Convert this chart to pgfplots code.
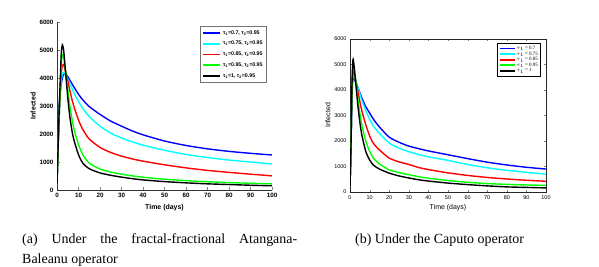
\documentclass[border=0pt]{standalone}
\usepackage{fontspec}
\setmainfont{Liberation Serif}
\newfontfamily\hv{Liberation Sans}
\usepackage{pgfplots}
\pgfplotsset{compat=1.18}
\definecolor{cblue}{rgb}{0,0,1}
\definecolor{ccyan}{rgb}{0,1,1}
\definecolor{cred}{rgb}{1,0,0}
\definecolor{cgreen}{rgb}{0,1,0}
\pgfplotsset{
  ln/.style={line width=1.4bp, smooth, tension=0.4},
  common/.style={
    scale only axis, xmin=0, xmax=100, ymin=0, ymax=6000,
    xtick={0,10,...,100}, ytick={0,1000,...,6000},
    tick align=inside,
    /pgf/number format/1000 sep={},
    /pgf/number format/assume math mode=true,
    legend cell align=left,
  }
}
\begin{document}
\begin{tikzpicture}[x=1bp,y=1bp]
\path (0,0) rectangle (599,265);
% ---------- left ----------
\begin{axis}[common,
  at={(57bp,75bp)}, anchor=south west, width=215bp, height=168bp,
  axis x line*=bottom, axis y line*=left, axis line style={-, draw=black!80},
  major tick length=2.5bp,
  tick label style={font=\hv\bfseries\fontsize{6.3}{7}\selectfont},
  xlabel={\hv\bfseries\fontsize{7}{8}\selectfont Time (days)},
  ylabel={\hv\bfseries\fontsize{7}{8}\selectfont Infected},
  xlabel style={yshift=0bp},
  ylabel style={yshift=-3bp},
  legend image code/.code={\draw[#1, sharp plot, line width=1.8bp] (0bp,0bp) -- (17bp,0bp);},
  legend style={at={(1,1)}, anchor=north east, xshift=-5bp, yshift=-4bp,
    font=\hv\bfseries\fontsize{5.3}{6}\selectfont, draw=black!55, line width=0.8bp,
    row sep=1.6bp, inner sep=2bp},
]
\addplot[cblue, ln] coordinates {(0,200)(0.5,1800)(1,3000)(1.5,3500)(2,3800)(2.5,4000)(3,4120)(3.5,4150)(4,4140)(5,4050)(6,3920)(7,3790)(8,3660)(10,3420)(12,3220)(15,2980)(20,2700)(25,2460)(30,2280)(35,2110)(40,1970)(50,1750)(60,1590)(70,1470)(80,1380)(90,1310)(100,1250)};
\addplot[ccyan, ln] coordinates {(0,200)(0.5,1500)(1,2600)(1.5,3400)(2,3900)(2.5,4150)(3,4200)(3.5,4180)(4,4120)(5,3980)(6,3800)(7,3620)(8,3450)(10,3160)(12,2920)(15,2620)(20,2280)(25,2030)(30,1860)(35,1720)(40,1600)(50,1420)(60,1270)(70,1160)(80,1070)(90,1000)(100,930)};
\addplot[cred, ln] coordinates {(0,200)(0.5,1500)(1,2600)(1.5,3500)(2,4200)(2.5,4450)(3,4480)(3.5,4380)(4,4230)(5,3900)(6,3550)(7,3220)(8,2950)(10,2500)(12,2160)(15,1820)(20,1520)(25,1340)(30,1210)(35,1110)(40,1030)(50,900)(60,790)(70,700)(80,630)(90,565)(100,505)};
\addplot[cgreen, ln] coordinates {(0,200)(0.5,1500)(1,2600)(1.5,3600)(2,4500)(2.5,4850)(3,4800)(3.5,4550)(4,4250)(5,3600)(6,3000)(7,2520)(8,2150)(10,1620)(12,1260)(15,960)(20,750)(25,640)(30,565)(35,505)(40,455)(50,385)(60,335)(70,295)(80,265)(90,240)(100,220)};
\addplot[black, ln] coordinates {(0,200)(0.5,1500)(1,2800)(1.5,3900)(2,4900)(2.5,5180)(3,5050)(3.5,4650)(4,4200)(5,3300)(6,2600)(7,2100)(8,1750)(10,1260)(12,960)(15,760)(20,610)(25,525)(30,460)(35,405)(40,360)(50,300)(60,255)(70,220)(80,195)(90,170)(100,150)};
\legend{τ\textsubscript{1}=0.7{,} τ\textsubscript{2}=0.95,
        τ\textsubscript{1}=0.75{,} τ\textsubscript{2}=0.95,
        τ\textsubscript{1}=0.85{,} τ\textsubscript{2}=0.95,
        τ\textsubscript{1}=0.95{,} τ\textsubscript{2}=0.95,
        τ\textsubscript{1}=1{,} τ\textsubscript{2}=0.95}
\end{axis}
% ---------- right ----------
\begin{axis}[common,
  at={(350bp,73bp)}, anchor=south west, width=196bp, height=153bp,
  major tick length=2.2bp,
  axis line style={draw=black!85},
  tick label style={font=\hv\fontsize{5.5}{6}\selectfont},
  xlabel={\hv\fontsize{7}{8}\selectfont Time (days)},
  ylabel={\hv\fontsize{7}{8}\selectfont Infected},
  xlabel style={yshift=2bp},
  ylabel style={yshift=-3bp},
  legend image code/.code={\draw[#1, sharp plot, line width=1.7bp] (0bp,0bp) -- (15bp,0bp);},
  legend style={at={(1,1)}, anchor=north east, xshift=-5bp, yshift=-4bp,
    font=\fontsize{5}{5.5}\selectfont, draw=black, line width=0.8bp,
    row sep=-1.6bp, inner sep=1.5bp,
    nodes={inner sep=1.2bp}},
]
\addplot[cblue, ln] coordinates {(0,200)(0.5,1800)(1,3800)(1.5,4450)(2,4450)(3,4300)(4,4100)(5,3900)(6,3700)(8,3350)(10,3100)(12,2850)(15,2550)(20,2150)(25,1950)(30,1800)(35,1700)(40,1610)(50,1460)(60,1310)(70,1170)(80,1060)(90,970)(100,900)};
\addplot[ccyan, ln] coordinates {(0,200)(0.5,1800)(1,3900)(1.5,4550)(2,4550)(3,4350)(4,4100)(5,3850)(6,3600)(8,3200)(10,2850)(12,2580)(15,2300)(20,1920)(25,1720)(30,1580)(35,1470)(40,1380)(50,1240)(60,1080)(70,950)(80,850)(90,770)(100,700)};
\addplot[cred, ln] coordinates {(0,200)(0.5,1800)(1,4000)(1.5,4780)(2,4700)(3,4350)(4,3950)(5,3550)(6,3200)(8,2650)(10,2200)(12,1900)(15,1650)(20,1330)(25,1180)(30,1080)(35,960)(40,880)(50,750)(60,650)(70,570)(80,510)(90,460)(100,420)};
\addplot[cgreen, ln] coordinates {(0,200)(0.5,1800)(1,4100)(1.5,4980)(2,4900)(3,4300)(4,3650)(5,3100)(6,2650)(8,2000)(10,1600)(12,1320)(15,1100)(20,870)(25,760)(30,680)(35,600)(40,540)(50,450)(60,380)(70,330)(80,300)(90,275)(100,260)};
\addplot[black, ln] coordinates {(0,200)(0.5,1800)(1,4200)(1.5,5180)(2,5000)(3,4200)(4,3400)(5,2750)(6,2250)(8,1600)(10,1260)(12,1050)(15,900)(20,740)(25,630)(30,550)(35,480)(40,430)(50,350)(60,290)(70,240)(80,200)(90,180)(100,160)};
\legend{$\tau_1$ = 0.7, $\tau_1$ = 0.75, $\tau_1$ = 0.85, $\tau_1$ = 0.95, $\tau_1$ = 1}
\end{axis}
% ---------- captions ----------
\node[anchor=base west, text width=275bp, align=justify, inner sep=0pt,
  font=\fontsize{14}{20.5}\selectfont] at (22bp,22bp)
  {(a) Under the fractal-fractional Atangana-\linebreak Baleanu operator};
\node[anchor=base west, inner sep=0pt, font=\fontsize{14}{20.5}\selectfont]
  at (355bp,22bp) {(b) Under the Caputo operator};
\end{tikzpicture}
\end{document}
